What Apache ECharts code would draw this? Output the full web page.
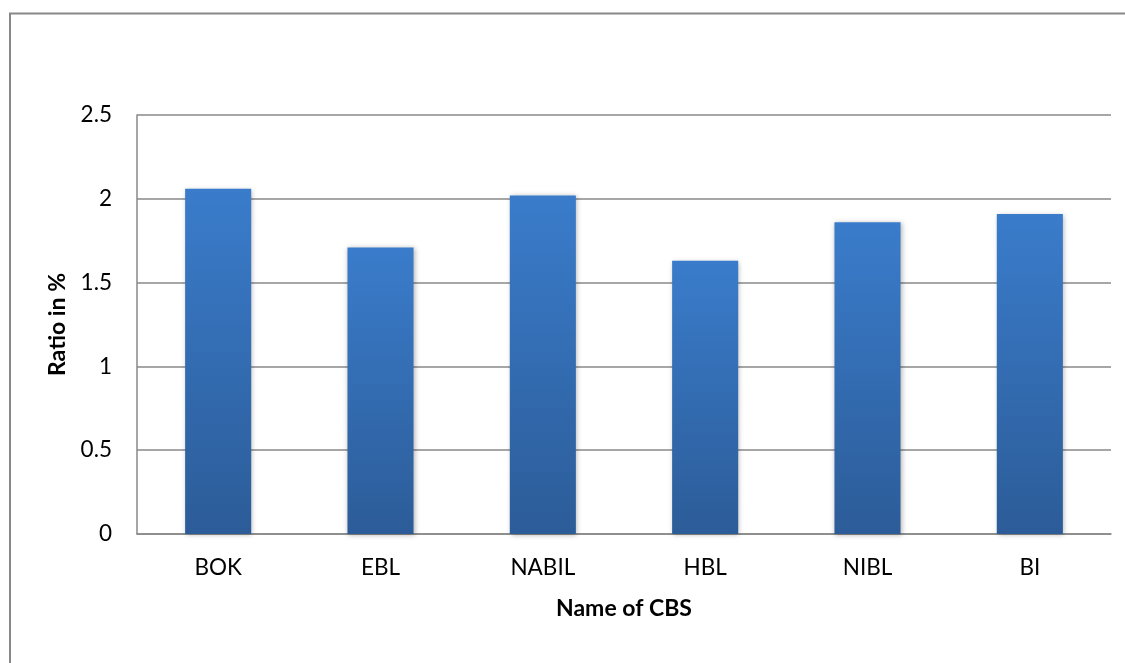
<!DOCTYPE html>
<html>
<head>
<meta charset="utf-8">
<script src="https://cdn.jsdelivr.net/npm/echarts@6/dist/echarts.min.js"></script>
<style>
    html, body { margin: 0; padding: 0; background: #fff; }
    #chart { width: 1125px; height: 663px; }
</style>
</head>
<body>
<div id="chart"></div>
<script>
// chart data
var banks = ['BOK', 'EBL', 'NABIL', 'HBL', 'NIBL', 'BI'];
var ratios = [2.06, 1.71, 2.02, 1.63, 1.86, 1.91];
var yTicks = [0, 0.5, 1, 1.5, 2, 2.5];

function ratioChart() {
    "use strict";
    var chart = echarts.init(document.getElementById('chart'));
    var font = 'Lato, "Open Sans", sans-serif';
    var option = {
        animation: false,
        backgroundColor: '#fff',

        // outer frame of the chart area
        graphic: [{
            type: 'rect',
            shape: { x: 10, y: 13.5, width: 1200, height: 700 },
            style: { fill: 'none', stroke: '#888', lineWidth: 2 },
            silent: true
        }],

        grid: { left: 137, top: 115, right: 14, bottom: 129 },

        xAxis: {
            type: 'category',
            data: banks,
            name: 'Name of CBS',
            nameLocation: 'middle',
            nameGap: 63,
            nameTextStyle: { fontFamily: font, fontSize: 23, fontWeight: 'bold', color: '#000' },
            axisLine: { lineStyle: { color: '#888', width: 1.5 } },
            axisTick: { show: false },
            axisLabel: { fontFamily: font, fontSize: 22.5, color: '#000', margin: 22 }
        },

        yAxis: {
            type: 'value',
            min: yTicks[0],
            max: yTicks[yTicks.length - 1],
            interval: 0.5,
            name: 'Ratio in %',
            nameLocation: 'middle',
            nameGap: 68,
            nameTextStyle: { fontFamily: font, fontSize: 23, fontWeight: 'bold', color: '#000' },
            axisLine: { show: true, lineStyle: { color: '#888', width: 1.5 } },
            axisTick: { show: false },
            axisLabel: { fontFamily: font, fontSize: 22.5, color: '#000', margin: 25 },
            splitLine: { lineStyle: { color: '#888', width: 1.5 } }
        },

        series: [{
            name: 'Ratio',
            type: 'bar',
            data: ratios,
            barWidth: '40.7%',
            itemStyle: {
                color: new echarts.graphic.LinearGradient(0, 0, 0, 1, [
                    { offset: 0, color: '#3a7ccb' },
                    { offset: 1, color: '#2c5c98' }
                ]),
                shadowColor: 'rgba(0,0,0,0.3)',
                shadowBlur: 5,
                shadowOffsetX: 1,
                shadowOffsetY: 1
            }
        }]
    };

    chart.setOption(option);
}
ratioChart();
</script>
</body>
</html>
